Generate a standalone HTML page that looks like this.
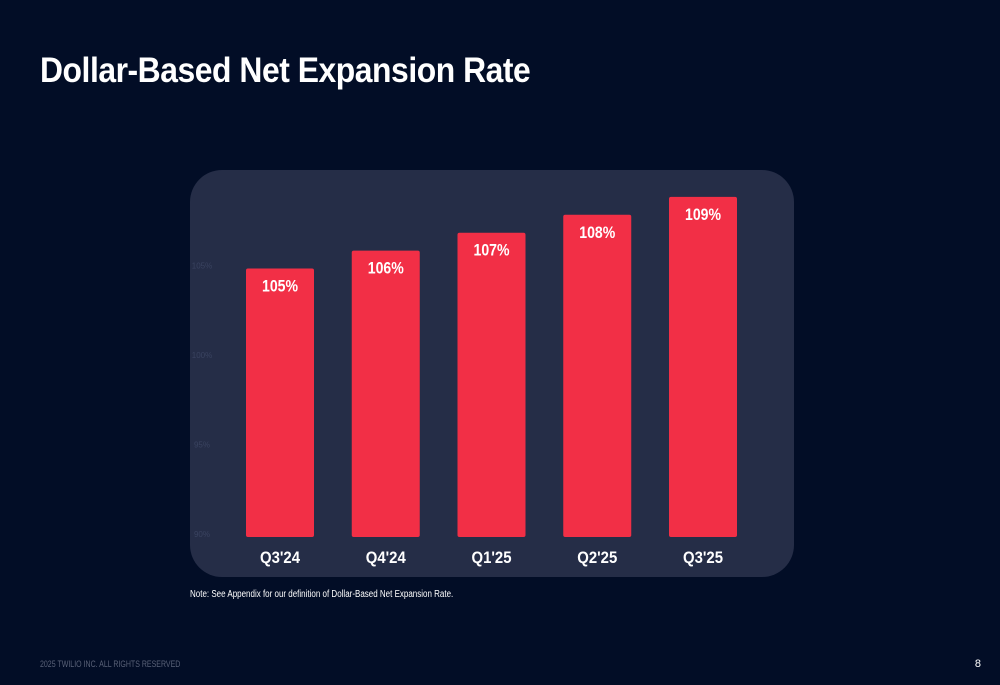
<!DOCTYPE html>
<html><head><meta charset="utf-8"><style>
body{margin:0;width:1000px;height:685px;background:#020d26;font-family:"Liberation Sans",sans-serif;position:relative;overflow:hidden}
h1{position:absolute;left:40px;top:51px;margin:0;color:#fff;font-size:35px;font-weight:bold;letter-spacing:-0.5px;transform:scaleX(0.91);transform-origin:left top;white-space:nowrap}
.note{position:absolute;left:190px;top:589px;color:#fff;font-size:10px;transform:scaleX(0.8);transform-origin:left top;white-space:nowrap}
.foot{position:absolute;left:40px;top:659px;color:#5a6278;font-size:9px;transform:scaleX(0.78);transform-origin:left top;white-space:nowrap}
.pg{position:absolute;right:19px;top:658px;color:#fff;font-size:11px}
svg{position:absolute;left:0;top:0}
</style></head><body>
<h1>Dollar-Based Net Expansion Rate</h1>
<svg width="1000" height="685">
<rect x="190" y="170" width="604" height="407" rx="32" fill="#252d47"/>
<g id="g"></g>
</svg>
<div class="note">Note: See Appendix for our definition of Dollar-Based Net Expansion Rate.</div>
<div class="foot">2025 TWILIO INC. ALL RIGHTS RESERVED</div>
<div class="pg">8</div>
<script>
const categories=["Q3'24","Q4'24","Q1'25","Q2'25","Q3'25"];
const values=[105,106,107,108,109];
const ticks=[90,95,100,105];
const NS="http://www.w3.org/2000/svg",g=document.getElementById('g');
const y=v=>537-(v-90)*17.9;
const x=i=>246+i*105.75;
function mk(t,a,txt){const e=document.createElementNS(NS,t);for(const k in a)e.setAttribute(k,a[k]);if(txt!=null)e.textContent=txt;g.appendChild(e);return e;}
ticks.forEach(t=>{
const e=mk('text',{x:202,y:y(t),fill:'#3a4360','font-size':8,'text-anchor':'middle'},t+'%');


});
values.forEach((v,i)=>{
const r=mk('rect',{x:x(i),y:y(v),width:68,height:537-y(v),fill:'#f22f46',rx:2});


const l=mk('text',{x:x(i)+34,y:y(v)+23,fill:'#fff','font-size':17,'font-weight':'bold','text-anchor':'middle',textLength:36,lengthAdjust:'spacingAndGlyphs'},v+'%');


const c=mk('text',{x:x(i)+34,y:563,fill:'#fff','font-size':17,'font-weight':'bold','text-anchor':'middle',textLength:40,lengthAdjust:'spacingAndGlyphs'},categories[i]);


});
</script>
</body></html>
